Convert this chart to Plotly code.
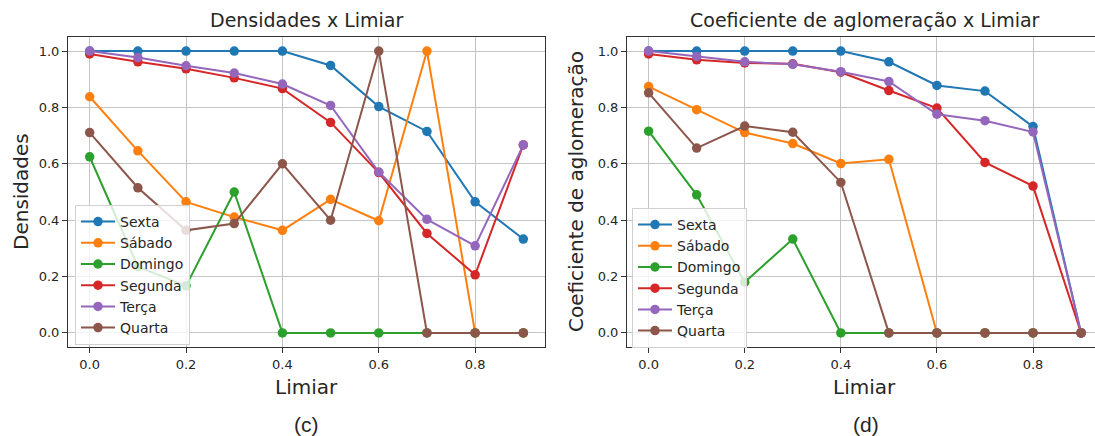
import plotly.graph_objects as go

limiar = [0.0, 0.1, 0.2, 0.3, 0.4, 0.5, 0.6, 0.7, 0.8, 0.9]
series_names = ["Sexta", "Sábado", "Domingo", "Segunda", "Terça", "Quarta"]
colors = ["#1f77b4", "#ff7f0e", "#2ca02c", "#d62728", "#9467bd", "#8c564b"]

# (c) Densidades x Limiar
dens_sexta = [1.0, 1.0, 1.0, 1.0, 1.0, 0.949, 0.803, 0.715, 0.465, 0.333]
dens_sabado = [0.838, 0.646, 0.465, 0.411, 0.364, 0.474, 0.398, 1.0, 0.0, 0.0]
dens_domingo = [0.625, 0.235, 0.167, 0.5, 0.0, 0.0, 0.0, 0.0, 0.0, 0.0]
dens_segunda = [0.99, 0.962, 0.937, 0.905, 0.867, 0.747, 0.569, 0.353, 0.206, 0.667]
dens_terca = [1.0, 0.977, 0.948, 0.922, 0.883, 0.807, 0.571, 0.403, 0.309, 0.667]
dens_quarta = [0.711, 0.515, 0.364, 0.388, 0.6, 0.4, 1.0, 0.0, 0.0, 0.0]

# (d) Coeficiente de aglomeração x Limiar
coef_sexta = [1.0, 1.0, 1.0, 1.0, 1.0, 0.962, 0.878, 0.858, 0.732, 0.0]
coef_sabado = [0.874, 0.792, 0.711, 0.672, 0.601, 0.616, 0.0, 0.0, 0.0, 0.0]
coef_domingo = [0.716, 0.49, 0.18, 0.333, 0.0, 0.0, 0.0, 0.0, 0.0, 0.0]
coef_segunda = [0.99, 0.969, 0.958, 0.955, 0.925, 0.86, 0.798, 0.605, 0.521, 0.0]
coef_terca = [1.0, 0.981, 0.962, 0.953, 0.927, 0.892, 0.776, 0.753, 0.713, 0.0]
coef_quarta = [0.852, 0.656, 0.734, 0.712, 0.534, 0.0, 0.0, 0.0, 0.0, 0.0]

dens = [dens_sexta, dens_sabado, dens_domingo, dens_segunda, dens_terca, dens_quarta]
coef = [coef_sexta, coef_sabado, coef_domingo, coef_segunda, coef_terca, coef_quarta]

xticks = [0.0, 0.2, 0.4, 0.6, 0.8]
xticklabels = ["0.0", "0.2", "0.4", "0.6", "0.8"]
yticks = [0.0, 0.2, 0.4, 0.6, 0.8, 1.0]
yticklabels = ["0.0", "0.2", "0.4", "0.6", "0.8", "1.0"]

W, H = 1095, 436
def px(x):
    return x / W
def py(y):
    return 1 - y / H

FONT = "DejaVu Sans"
TXT = "#262626"

fig = go.Figure()
for name, col, ys in zip(series_names, colors, dens):
    fig.add_trace(go.Scatter(x=limiar, y=ys, name=name, mode="lines+markers",
                             line=dict(color=col, width=2),
                             marker=dict(color=col, size=9.5),
                             xaxis="x", yaxis="y", legend="legend"))
for name, col, ys in zip(series_names, colors, coef):
    fig.add_trace(go.Scatter(x=limiar, y=ys, name=name, mode="lines+markers",
                             line=dict(color=col, width=2),
                             marker=dict(color=col, size=9.5),
                             xaxis="x2", yaxis="y2", legend="legend2"))

axis_common = dict(showline=True, mirror=True, linecolor="#333333", linewidth=1,
                   showgrid=True, gridcolor="#c4c4c4", gridwidth=1, zeroline=False,
                   ticks="outside", ticklen=5, tickcolor="#333333",
                   tickfont=dict(family=FONT, size=13, color=TXT))

legend_common = dict(bgcolor="rgba(255,255,255,0.8)", bordercolor="#d0d0d0", borderwidth=1,
                     font=dict(family=FONT, size=14, color=TXT),
                     xanchor="left", yanchor="top", tracegroupgap=0, itemwidth=34)

fig.update_layout(
    width=W, height=H, margin=dict(l=0, r=0, t=0, b=0),
    paper_bgcolor="white", plot_bgcolor="white",
    xaxis=dict(domain=[px(68), px(545)], range=[-0.045, 0.945], tickvals=xticks,
               ticktext=xticklabels, anchor="y", **axis_common),
    yaxis=dict(domain=[py(347), py(37)], range=[-0.05, 1.05], tickvals=yticks,
               ticktext=yticklabels, anchor="x", **axis_common),
    xaxis2=dict(domain=[px(627), 1.0], range=[-0.045, 0.929], tickvals=xticks,
                ticktext=xticklabels, anchor="y2", **axis_common),
    yaxis2=dict(domain=[py(347), py(37)], range=[-0.05, 1.05], tickvals=yticks,
                ticktext=yticklabels, anchor="x2", **axis_common),
    legend=dict(x=px(75), y=py(205), **legend_common),
    legend2=dict(x=px(632), y=py(208), **legend_common),
    showlegend=True,
)

def ann(text, x, y, size, family=FONT, angle=0):
    fig.add_annotation(text=text, x=px(x), y=py(y), xref="paper", yref="paper",
                       showarrow=False, xanchor="center", yanchor="middle",
                       textangle=angle, font=dict(family=family, size=size, color=TXT))

ann("Densidades x Limiar", 306.5, 20, 19)
ann("Coeficiente de aglomeração x Limiar", 864.5, 20, 19)
ann("Limiar", 306.5, 387, 20)
ann("Limiar", 864.5, 387, 20)
ann("Densidades", 21, 192, 20, angle=-90)
ann("Coeficiente de aglomeração", 576, 192, 20, angle=-90)
ann("(c)", 306.5, 424, 21, family="Liberation Sans")
ann("(d)", 866, 424, 21, family="Liberation Sans")

fig.write_html("out.html")
